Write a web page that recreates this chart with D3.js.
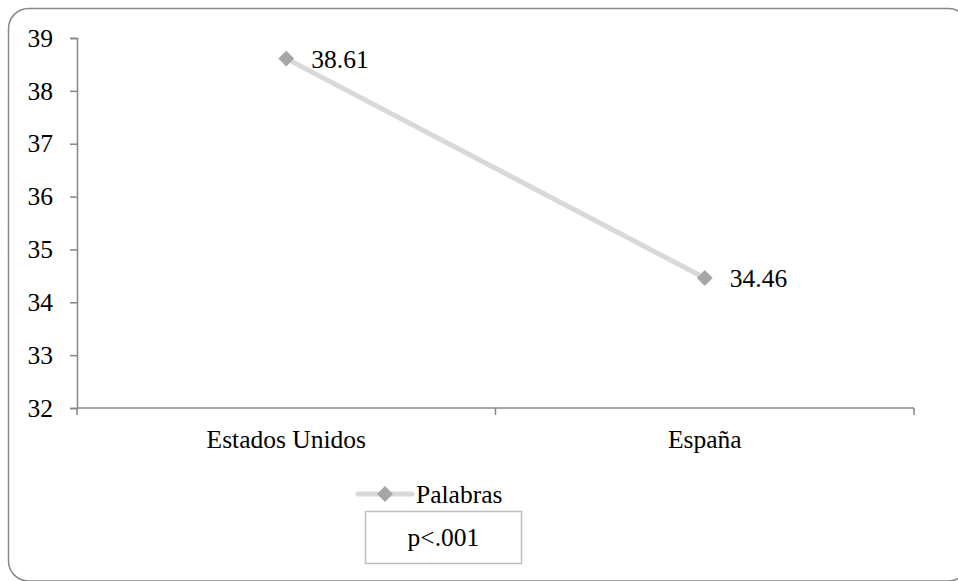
<!DOCTYPE html>
<html>
<head>
<meta charset="utf-8">
<script src="https://cdn.jsdelivr.net/npm/d3@7"></script>
<style>
  html, body { margin: 0; padding: 0; background: #fff; overflow: hidden; }
  svg { display: block; }
</style>
</head>
<body>
<svg id="chart" width="958" height="581"></svg>
<script>
const categories = ["Estados Unidos", "España"];
const values = [38.61, 34.46];
const valueLabels = ["38.61", "34.46"];
const seriesName = "Palabras";
const yTicks = [32, 33, 34, 35, 36, 37, 38, 39];
const note = "p<.001";

const FONT = "'Liberation Serif', 'Times New Roman', Times, serif";
const svg = d3.select("#chart").style("font-family", FONT);
const fontSize = 25.5;

// outer rounded frame
svg.append("rect")
  .attr("x", 8.5).attr("y", 8.5)
  .attr("width", 960).attr("height", 572.5)
  .attr("rx", 20).attr("ry", 20)
  .attr("fill", "#fff")
  .attr("stroke", "#868686").attr("stroke-width", 1.5);

const plot = { left: 77, right: 914, top: 38, bottom: 408 };

const x = d3.scaleBand().domain(categories).range([plot.left, plot.right]).padding(0);
const y = d3.scaleLinear().domain([32, 39]).range([plot.bottom, plot.top]);

const axisColor = "#868686";

// Y axis
const yAxis = svg.append("g")
  .attr("transform", `translate(${plot.left},0)`)
  .call(d3.axisLeft(y).tickValues(yTicks).tickSize(7).tickPadding(17).tickFormat(d3.format("d")));
yAxis.attr("font-family", null).attr("font-size", null);
yAxis.select(".domain").attr("stroke", axisColor).attr("stroke-width", 1.5);
yAxis.selectAll(".tick line").attr("stroke", axisColor).attr("stroke-width", 1.5);
yAxis.selectAll(".tick text")
  .style("font-family", FONT)
  .style("font-size", fontSize + "px")
  .attr("fill", "#000");

// X axis
const xAxisG = svg.append("g").attr("transform", `translate(0,${plot.bottom})`);
xAxisG.append("line")
  .attr("x1", plot.left).attr("x2", plot.right)
  .attr("y1", 0).attr("y2", 0)
  .attr("stroke", axisColor).attr("stroke-width", 1.5);
const boundaries = [plot.left].concat(categories.map(c => x(c) + x.bandwidth()));
xAxisG.selectAll("line.tk").data(boundaries).enter().append("line")
  .attr("class", "tk")
  .attr("x1", d => d).attr("x2", d => d)
  .attr("y1", 0).attr("y2", 7)
  .attr("stroke", axisColor).attr("stroke-width", 1.5);
xAxisG.selectAll("text.cat").data(categories).enter().append("text")
  .attr("class", "cat")
  .attr("x", d => x(d) + x.bandwidth() / 2)
  .attr("y", 40)
  .attr("text-anchor", "middle")
  .style("font-family", FONT)
  .style("font-size", fontSize + "px")
  .text(d => d);

// series line
const pts = categories.map((c, i) => ({ c, v: values[i], label: valueLabels[i] }));
const line = d3.line().x(d => x(d.c) + x.bandwidth() / 2).y(d => y(d.v));
svg.append("path")
  .datum(pts)
  .attr("d", line)
  .attr("fill", "none")
  .attr("stroke", "#d9d9d9")
  .attr("stroke-width", 5)
  .attr("stroke-linecap", "round");

const diamond = d3.symbol().type(d3.symbolDiamond2).size(160);
svg.selectAll("path.mk").data(pts).enter().append("path")
  .attr("class", "mk")
  .attr("d", diamond)
  .attr("transform", d => `translate(${x(d.c) + x.bandwidth() / 2},${y(d.v)})`)
  .attr("fill", "#a6a6a6");

svg.selectAll("text.dl").data(pts).enter().append("text")
  .attr("class", "dl")
  .attr("x", d => x(d.c) + x.bandwidth() / 2 + 25)
  .attr("y", d => y(d.v) + 9)
  .style("font-family", FONT)
  .style("font-size", fontSize + "px")
  .text(d => d.label);

// legend
const lg = svg.append("g");
lg.append("line")
  .attr("x1", 358).attr("x2", 412).attr("y1", 494).attr("y2", 494)
  .attr("stroke", "#d9d9d9").attr("stroke-width", 5).attr("stroke-linecap", "round");
lg.append("path")
  .attr("d", diamond)
  .attr("transform", "translate(385,494)")
  .attr("fill", "#a6a6a6");
lg.append("text")
  .attr("x", 416).attr("y", 503)
  .style("font-family", FONT)
  .style("font-size", fontSize + "px")
  .text(seriesName);

// note box
svg.append("rect")
  .attr("x", 365.5).attr("y", 511.5)
  .attr("width", 156).attr("height", 52)
  .attr("fill", "#fff")
  .attr("stroke", "#bfbfbf").attr("stroke-width", 1.5);
svg.append("text")
  .attr("x", 443.5).attr("y", 546)
  .attr("text-anchor", "middle")
  .style("font-family", FONT)
  .style("font-size", fontSize + "px")
  .text(note);
</script>
</body>
</html>
